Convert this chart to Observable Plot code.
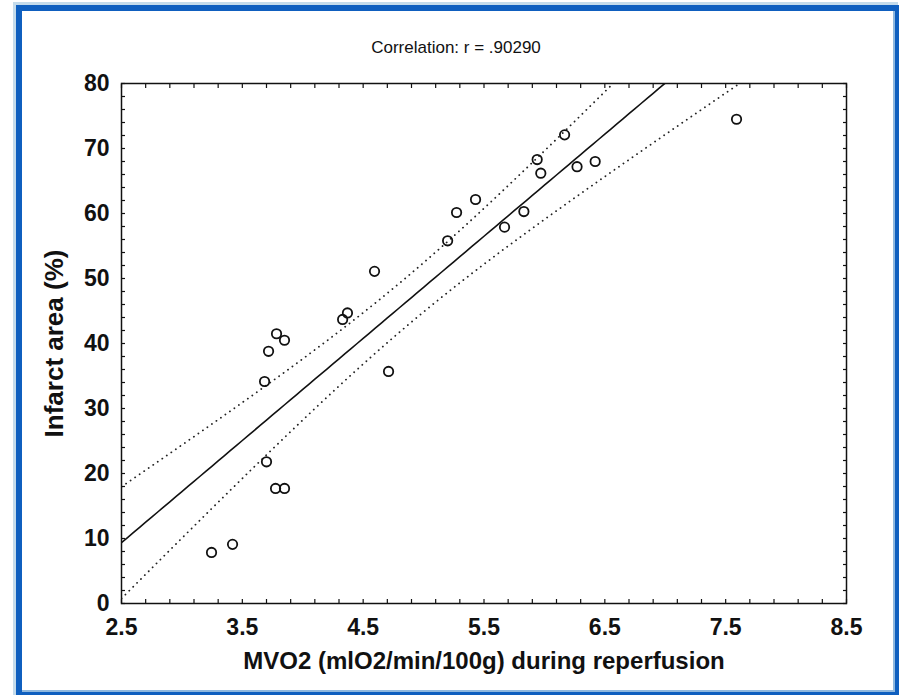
<!DOCTYPE html>
<html><head><meta charset="utf-8">
<script src="https://cdn.jsdelivr.net/npm/d3@7"></script>
<script src="https://cdn.jsdelivr.net/npm/@observablehq/plot@0.6"></script>
<style>
html,body{margin:0;padding:0;background:#fff;width:899px;height:695px;overflow:hidden;}
#chart{position:absolute;left:0;top:0;}
#frame{position:absolute;left:16px;top:5px;width:885px;height:693px;box-sizing:border-box;border:6px solid #0f5fbf;box-shadow:-3px -3px 0 0 #c4dbeb, inset -2px -2px 0 0 #8fb8de;pointer-events:none;}
</style></head><body>
<div id="chart"></div><div id="frame"></div>
<script>
const mvo2 = [3.245, 3.419, 3.684, 3.717, 3.783, 3.849, 3.70, 3.775, 3.849, 4.33, 4.37, 4.594, 4.71, 5.199, 5.273, 5.43, 5.67, 5.83, 5.94, 5.97, 6.167, 6.27, 6.42, 7.59];
const infarct = [7.85, 9.1, 34.15, 38.8, 41.5, 40.5, 21.8, 17.7, 17.7, 43.7, 44.7, 51.1, 35.7, 55.8, 60.15, 62.15, 57.9, 60.3, 68.3, 66.2, 72.1, 67.2, 68.0, 74.5];
const xTicks = [2.5, 3.5, 4.5, 5.5, 6.5, 7.5, 8.5];
const yTicks = [0, 10, 20, 30, 40, 50, 60, 70, 80];
const xMinor = d3.range(0, 31).map(i => +(2.5 + i * 0.2).toFixed(1));
const yMinor = d3.range(0, 41).map(i => i * 2);
const title = "Correlation: r = .90290";
const xLabel = "MVO2 (mlO2/min/100g) during reperfusion";
const yLabel = "Infarct area (%)";

const data = mvo2.map((x, i) => ({x, y: infarct[i]}));
// least-squares fit with 95% confidence band for the mean
const n = data.length;
const mx = d3.mean(mvo2), my = d3.mean(infarct);
const sxx = d3.sum(mvo2, x => (x - mx) ** 2);
const sxy = d3.sum(data, d => (d.x - mx) * (d.y - my));
const b = sxy / sxx, a = my - b * mx;
const s = Math.sqrt(d3.sum(data, d => (d.y - a - b * d.x) ** 2) / (n - 2));
const tCrit = 2.0739;
const fit = d3.range(0, 121).map(i => {
  const x = 2.5 + i * 0.05, yh = a + b * x;
  const h = tCrit * s * Math.sqrt(1 / n + (x - mx) ** 2 / sxx);
  return {x, y: yh, lo: yh - h, hi: yh + h};
});

const font = "'Liberation Sans', Arial, Helvetica, sans-serif";
const dotted = {x: "x", stroke: "#222", strokeWidth: 1.8, strokeDasharray: "0.1,5.4", strokeLinecap: "round", clip: true};
const minor = {tickSize: -4, text: null, label: null, strokeWidth: 1.2};

const chart = Plot.plot({
  width: 899, height: 695,
  marginLeft: 121, marginRight: 53, marginTop: 83, marginBottom: 92,
  x: {domain: [2.5, 8.5]},
  y: {domain: [0, 80]},
  style: {fontFamily: font, color: "#111", background: "transparent", overflow: "visible"},
  marks: [
    Plot.line(fit, {...dotted, y: "hi"}),
    Plot.line(fit, {...dotted, y: "lo"}),
    Plot.line(fit, {x: "x", y: "y", stroke: "#111", strokeWidth: 1.6, clip: true}),
    Plot.dot(data, {x: "x", y: "y", r: 4.7, stroke: "#111", strokeWidth: 1.8, fill: "none"}),
    Plot.frame({stroke: "#111", strokeWidth: 1.5}),
    Plot.axisX({anchor: "bottom", ticks: xMinor, ...minor}),
    Plot.axisX({anchor: "top", ticks: xMinor, ...minor}),
    Plot.axisY({anchor: "left", ticks: yMinor, ...minor}),
    Plot.axisY({anchor: "right", ticks: yMinor, ...minor}),
    Plot.axisX({anchor: "bottom", ticks: xTicks, tickSize: 0, tickPadding: 15, label: null, tickFormat: d => d.toFixed(1), fontSize: 23, fontWeight: "bold"}),
    Plot.axisY({anchor: "left", ticks: yTicks, tickSize: 0, tickPadding: 12, label: null, fontSize: 23, fontWeight: "bold"}),
    Plot.text([title], {text: d => d, frameAnchor: "top", dx: -28, dy: -43, fontSize: 17, fill: "#111"}),
    Plot.text([xLabel], {text: d => d, frameAnchor: "bottom", dy: 65, fontSize: 24, fontWeight: "bold", fill: "#111"}),
    Plot.text([yLabel], {text: d => d, frameAnchor: "left", textAnchor: "middle", dx: -67, rotate: -90, fontSize: 26, fontWeight: "bold", fill: "#111"})
  ]
});
document.getElementById("chart").append(chart);
</script>
</body></html>
